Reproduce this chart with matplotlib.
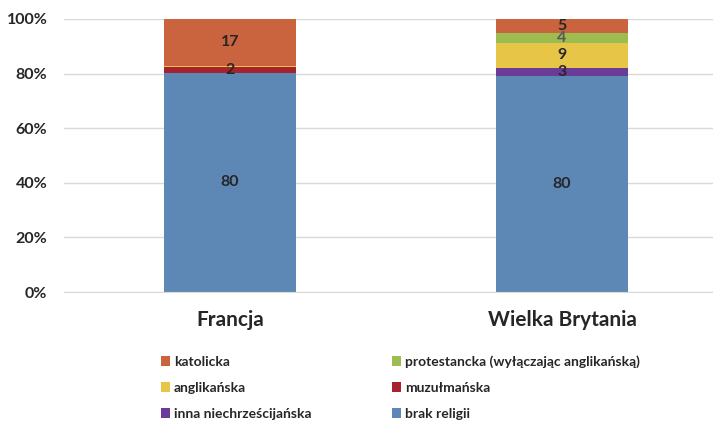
import matplotlib.pyplot as plt
import numpy as np

plt.rcParams['font.family'] = ['Lato', 'DejaVu Sans']

kraje = ['Francja', 'Wielka Brytania']
# wartości w %, od dołu słupka do góry
brak_religii = [80, 80]
inna = [0, 3]
muzulmanska = [2, 0]
anglikanska = [0.2, 9]
protestancka = [0.3, 4]
katolicka = [17, 5]

serie = [
    ('brak religii', brak_religii, '#5D88B6'),
    ('inna niechrześcijańska', inna, '#6B3B98'),
    ('muzułmańska', muzulmanska, '#A7222E'),
    ('anglikańska', anglikanska, '#E7C546'),
    ('protestancka (wyłączając anglikańską)', protestancka, '#9DBD50'),
    ('katolicka', katolicka, '#C9643F'),
]

suma = np.sum([s[1] for s in serie], axis=0)

fig = plt.figure(figsize=(7.13, 4.21), dpi=100)
ax = fig.add_axes([64 / 713, 1 - 292 / 421, 649 / 713, 273 / 421])

x = np.arange(len(kraje))
dol = np.zeros(len(kraje))
uchwyty = {}
for nazwa, vals, kolor in serie:
    h = np.array(vals) / suma * 100
    b = ax.bar(x, h, 0.40, bottom=dol, color=kolor, label=nazwa, zorder=2)
    uchwyty[nazwa] = b
    for i, v in enumerate(vals):
        if v >= 1:
            kol = '#595959' if nazwa.startswith('protestancka') else '#262626'
            ax.text(x[i], dol[i] + h[i] / 2, f'{v:g}', ha='center', va='center',
                    fontsize=11.5, fontweight='bold', color=kol, zorder=3)
    dol += h

ax.set_xlim(-0.5, -0.5 + 649 / 332)
ax.set_ylim(0, 100)
ax.set_yticks(np.arange(0, 101, 20))
ax.set_yticklabels([f'{t}%' for t in range(0, 101, 20)], fontsize=11.5, fontweight='bold', color='#262626')
ax.set_xticks(x)
ax.set_xticklabels(kraje, fontsize=15, fontweight='bold', color='#262626')
ax.tick_params(axis='y', length=0, pad=12)
ax.tick_params(axis='x', length=0, pad=13)
ax.grid(axis='y', color='#D9D9D9', linewidth=1, zorder=0)
for s in ['top', 'right', 'left']:
    ax.spines[s].set_visible(False)
ax.spines['bottom'].set_color('#D9D9D9')

kolejnosc = ['katolicka', 'anglikańska', 'inna niechrześcijańska',
             'protestancka (wyłączając anglikańską)', 'muzułmańska', 'brak religii']
leg = fig.legend([uchwyty[k] for k in kolejnosc], kolejnosc, ncol=2,
                 loc='upper left', bbox_to_anchor=(148 / 713, 1 - 343 / 421),
                 frameon=False, fontsize=10, handlelength=0.7, handleheight=0.7,
                 handletextpad=0.25, columnspacing=5.8, labelspacing=1.0)
for t in leg.get_texts():
    t.set_fontweight('bold')
    t.set_color('#262626')

fig.savefig('out.png', dpi=100)
